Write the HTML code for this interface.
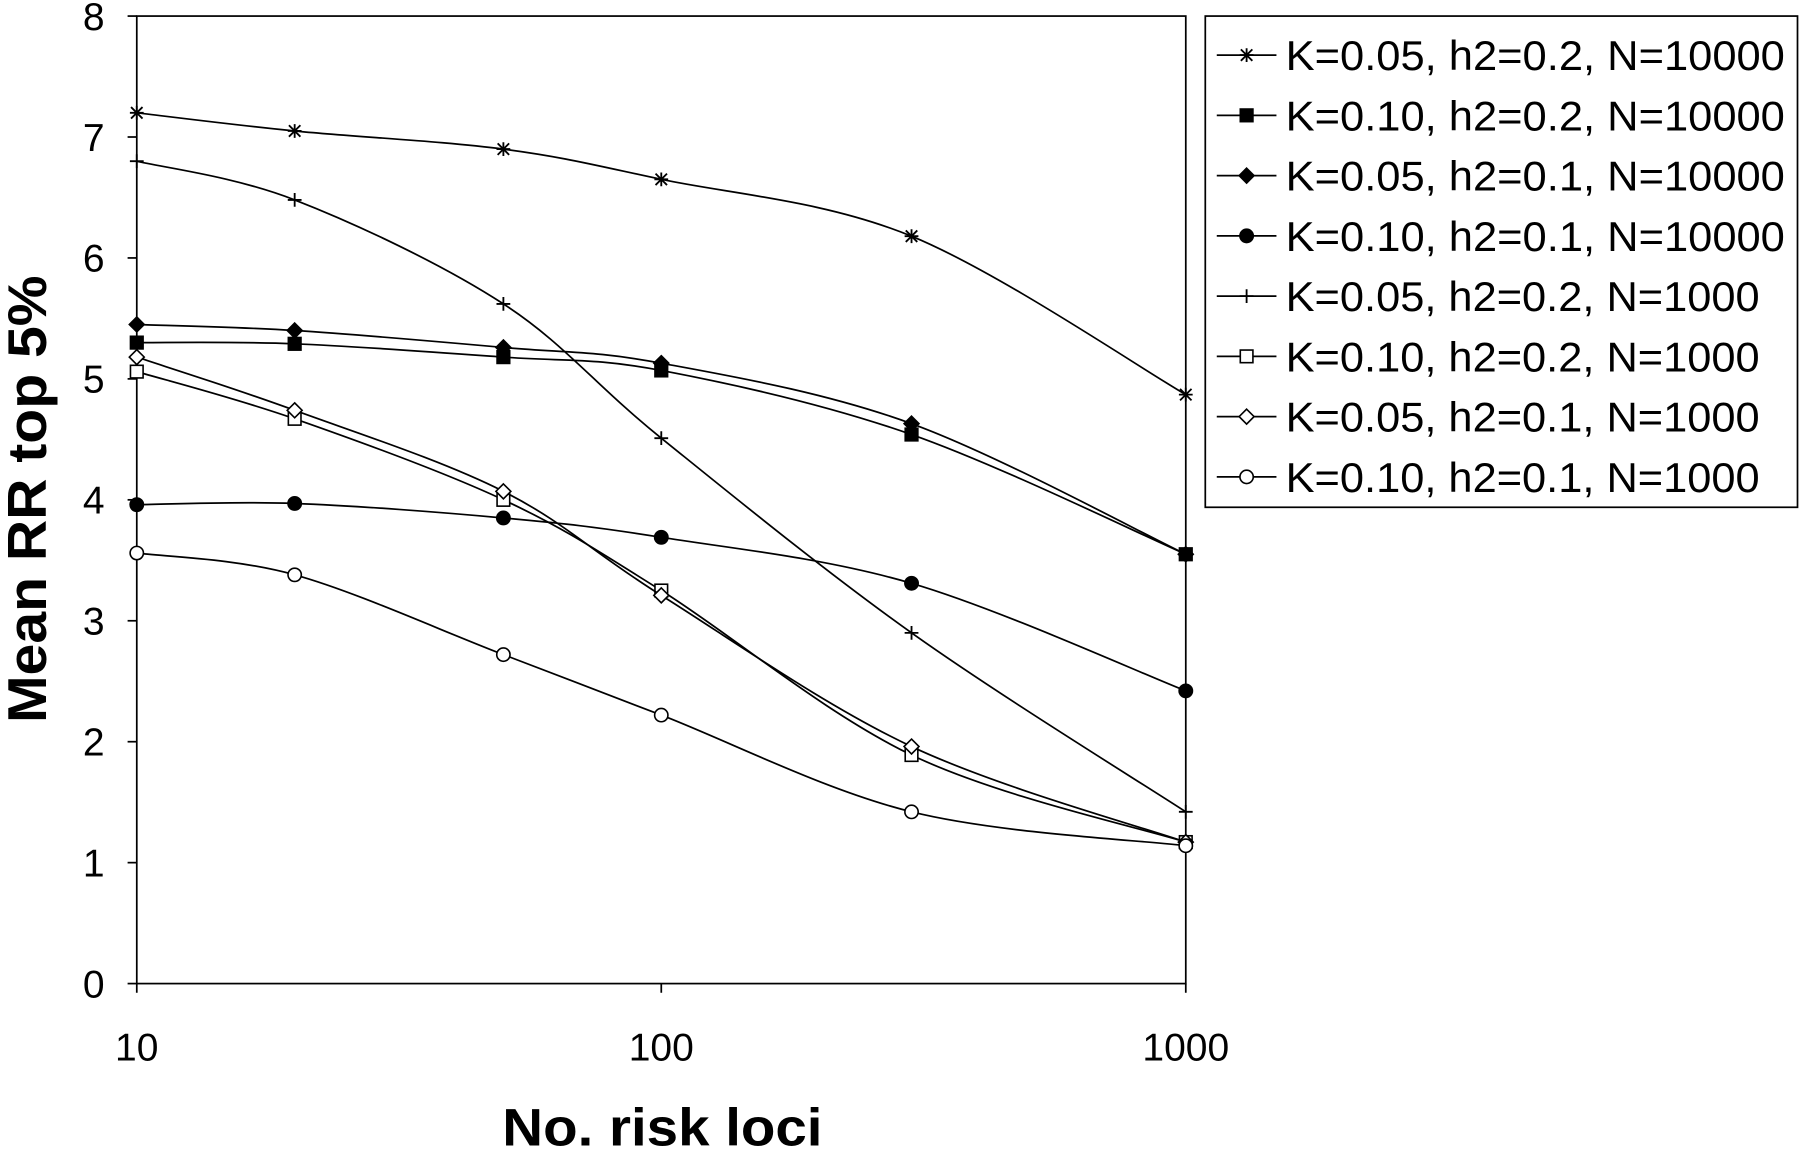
<!DOCTYPE html>
<html><head><meta charset="utf-8"><style>
html,body{margin:0;padding:0;background:#fff;}
svg{display:block;font-family:"Liberation Sans",Arial,sans-serif;}
</style></head><body>
<svg id="chart" width="1800" height="1150" viewBox="0 0 1568 1002" xmlns="http://www.w3.org/2000/svg">
<rect x="119" y="14" width="914" height="843" fill="#fff" stroke="#000" stroke-width="1.5"/>
<g id="axes"></g>
<g id="series"></g>
<rect x="1050" y="14" width="516" height="428" fill="#fff" stroke="#000" stroke-width="1.5"/>
<g id="legend"></g>
<text transform="translate(40,435) rotate(-90)" text-anchor="middle" font-size="48" font-weight="bold" textLength="390" lengthAdjust="spacingAndGlyphs">Mean RR top 5%</text>
<text x="577" y="998" text-anchor="middle" font-size="46" font-weight="bold" textLength="279" lengthAdjust="spacingAndGlyphs">No. risk loci</text>
</svg>
<script>
const xValues = [10, 20, 50, 100, 300, 1000];
const seriesLabels = ["K=0.05, h2=0.2, N=10000","K=0.10, h2=0.2, N=10000","K=0.05, h2=0.1, N=10000","K=0.10, h2=0.1, N=10000","K=0.05, h2=0.2, N=1000","K=0.10, h2=0.2, N=1000","K=0.05, h2=0.1, N=1000","K=0.10, h2=0.1, N=1000"];
const s1 = [7.2, 7.05, 6.9, 6.65, 6.18, 4.87];
const s2 = [5.3, 5.29, 5.18, 5.07, 4.54, 3.55];
const s3 = [5.45, 5.4, 5.26, 5.13, 4.63, 3.55];
const s4 = [3.96, 3.97, 3.85, 3.69, 3.31, 2.42];
const s5 = [6.8, 6.48, 5.62, 4.51, 2.9, 1.42];
const s6 = [5.06, 4.67, 4.0, 3.25, 1.89, 1.17];
const s7 = [5.18, 4.74, 4.07, 3.21, 1.96, 1.17];
const s8 = [3.56, 3.38, 2.72, 2.22, 1.42, 1.14];
const yTicks = [0,1,2,3,4,5,6,7,8];
const xTicks = [10,100,1000];
const markers = ["star","fsquare","fdiamond","fcircle","plus","osquare","odiamond","ocircle"];
const allSeries = [s1,s2,s3,s4,s5,s6,s7,s8];

const NS="http://www.w3.org/2000/svg";
const X0=119,X1=1033,Y0=857,Y1=14;
function xs(v){return X0+(Math.log10(v)-1)/2*(X1-X0);}
function ys(v){return Y0-v/8*(Y0-Y1);}
function mk(tag,attrs,parent){const e=document.createElementNS(NS,tag);for(const k in attrs)e.setAttribute(k,attrs[k]);parent.appendChild(e);return e;}
const axes=document.getElementById('axes');
yTicks.forEach(t=>{
  const l=mk('line',{x1:X0-8,x2:X0,y1:ys(t),y2:ys(t),stroke:'#000','stroke-width':1.5},axes);
  
  
  const tx=mk('text',{x:X0-28,y:ys(t)+12,'text-anchor':'end','font-size':34},axes);
  tx.textContent=t;
  
  
});
xTicks.forEach(t=>{
  const l=mk('line',{x1:xs(t),x2:xs(t),y1:Y0,y2:Y0+8,stroke:'#000','stroke-width':1.5},axes);
  
  
  const tx=mk('text',{x:xs(t),y:924,'text-anchor':'middle','font-size':34},axes);
  tx.textContent=t;
  
  
});
function marker(type,x,y,g){
  const r=6;
  if(type==='star'){mk('path',{d:`M${x-r} ${y}H${x+r}M${x} ${y-r}V${y+r}M${x-5} ${y-5}L${x+5} ${y+5}M${x-5} ${y+5}L${x+5} ${y-5}`,stroke:'#000','stroke-width':1.6},g);}
  else if(type==='plus'){mk('path',{d:`M${x-r} ${y}H${x+r}M${x} ${y-r}V${y+r}`,stroke:'#000','stroke-width':1.6},g);}
  else if(type==='fsquare'||type==='osquare'){mk('rect',{x:x-5.5,y:y-5.5,width:11,height:11,fill:type[0]==='f'?'#000':'#fff',stroke:'#000','stroke-width':1.4},g);}
  else if(type==='fdiamond'||type==='odiamond'){mk('path',{d:`M${x} ${y-6.5}L${x+6.5} ${y}L${x} ${y+6.5}L${x-6.5} ${y}Z`,fill:type[0]==='f'?'#000':'#fff',stroke:'#000','stroke-width':1.4},g);}
  else {mk('circle',{cx:x,cy:y,r:5.8,fill:type[0]==='f'?'#000':'#fff',stroke:'#000','stroke-width':1.4},g);}
}
function smooth(pts){
  let d=`M${pts[0][0]} ${pts[0][1]}`;
  for(let i=0;i<pts.length-1;i++){
    const p0=pts[i-1]||pts[i],p1=pts[i],p2=pts[i+1],p3=pts[i+2]||p2;
    const c1=[p1[0]+(p2[0]-p0[0])/6,p1[1]+(p2[1]-p0[1])/6];
    const c2=[p2[0]-(p3[0]-p1[0])/6,p2[1]-(p3[1]-p1[1])/6];
    d+=`C${c1[0]} ${c1[1]} ${c2[0]} ${c2[1]} ${p2[0]} ${p2[1]}`;
  }
  return d;
}
const sg=document.getElementById('series');
allSeries.forEach((s,i)=>{
  const g=mk('g',{},sg);
  
  
  const pts=s.map((v,j)=>[xs(xValues[j]),ys(v)]);
  mk('path',{d:smooth(pts),fill:'none',stroke:'#000','stroke-width':1.5},g);
  pts.forEach(p=>marker(markers[i],p[0],p[1],g));
});
const lg=document.getElementById('legend');
seriesLabels.forEach((lab,i)=>{
  const y=48+i*52.5;
  const g=mk('g',{},lg);
  
  
  mk('line',{x1:1060,x2:1112,y1:y,y2:y,stroke:'#000','stroke-width':1.5},g);
  marker(markers[i],1086,y,g);
  const t=mk('text',{x:1120,y:y+13,'font-size':36,textLength:(lab.length===23?435:413),lengthAdjust:'spacingAndGlyphs'},g);
  t.textContent=lab;
});
</script>
</body></html>
